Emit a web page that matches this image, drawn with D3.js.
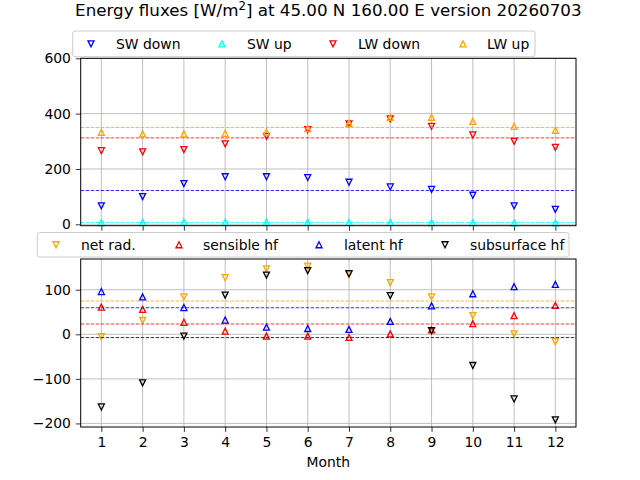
<!DOCTYPE html>
<html>
<head>
<meta charset="utf-8">
<script src="https://cdn.jsdelivr.net/npm/d3@7"></script>
<style>
  body { margin: 0; background: #fff; }
  svg text { font-family: "DejaVu Sans", sans-serif; }
</style>
</head>
<body>
<div id="chart"></div>
<script>
// values
const months = [1, 2, 3, 4, 5, 6, 7, 8, 9, 10, 11, 12];
const swDown = [67, 100, 147, 172, 172, 169, 152, 135, 126, 105, 67, 54];
const swUp = [6, 7, 8, 8, 8, 8, 7, 7, 6, 6, 5, 5];
const lwDown = [266, 262, 270, 291, 318, 342, 363, 381, 354, 323, 300, 278];
const lwUp = [332, 327, 327, 329, 333, 346, 365, 387, 387, 372, 354, 340];
const netRad = [-5, 31, 84, 127, 147, 153, 134, 116, 84, 42, 1, -17];
const sensible = [61, 56, 27, 7, -4, -4, -7, 1, 10, 24, 42, 65];
const latent = [96, 84, 60, 32, 16, 13, 11, 29, 64, 91, 107, 112];
const subsurface = [-163, -109, -4, 88, 133, 143, 136, 87, 8, -70, -145, -192];
const topTicks = [0, 200, 400, 600];
const bottomTicks = [-200, -100, 0, 100];

const topSeries = [
    { name: "SW down", values: swDown, color: "blue", marker: "down" },
    { name: "SW up", values: swUp, color: "cyan", marker: "up" },
    { name: "LW down", values: lwDown, color: "red", marker: "down" },
    { name: "LW up", values: lwUp, color: "orange", marker: "up" }
];
const bottomSeries = [
    { name: "net rad.", values: netRad, color: "orange", marker: "down" },
    { name: "sensible hf", values: sensible, color: "red", marker: "up" },
    { name: "latent hf", values: latent, color: "blue", marker: "up" },
    { name: "subsurface hf", values: subsurface, color: "black", marker: "down" }
];

const W = 640, H = 480;
const left = 80.7, right = 576;
const fontSize = 13.9;

const svg = d3.select("#chart").append("svg")
    .attr("width", W)
    .attr("height", H);

const x = d3.scaleLinear().domain([0.5, 12.5]).range([left, right]);

function markerPath(type, s) {
    // triangle marker centred on the point
    if (type === "down") return `M0,${s} L${-s},${-s} L${s},${-s} Z`;
    return `M0,${-s} L${-s},${s} L${s},${s} Z`;
}

function drawPanel(series, yDomain, top, bottom, ticks, showXLabels) {
    const y = d3.scaleLinear().domain(yDomain).range([bottom, top]);
    const g = svg.append("g");

    // grid
    g.append("g").selectAll("line.vg")
        .data(months).enter().append("line")
        .attr("x1", d => x(d)).attr("x2", d => x(d))
        .attr("y1", top).attr("y2", bottom)
        .attr("stroke", "#b0b0b0").attr("stroke-width", 0.8);
    g.append("g").selectAll("line.hg")
        .data(ticks).enter().append("line")
        .attr("x1", left).attr("x2", right)
        .attr("y1", d => y(d)).attr("y2", d => y(d))
        .attr("stroke", "#b0b0b0").attr("stroke-width", 0.8);

    // axes
    const yAxis = g.append("g")
        .attr("transform", `translate(${left},0)`)
        .call(d3.axisLeft(y).tickValues(ticks).tickSize(4.9).tickPadding(4.9).tickFormat(d => d < 0 ? "\u2212" + Math.abs(d) : d));
    const xAxis = g.append("g")
        .attr("transform", `translate(0,${bottom})`)
        .call(d3.axisBottom(x).tickValues(months).tickSize(4.9).tickPadding(4.9).tickFormat(showXLabels ? d3.format("d") : ""));
    [xAxis, yAxis].forEach(a => {
        a.select(".domain").remove();
        a.selectAll("line").attr("stroke", "#000").attr("stroke-width", 0.8);
        a.selectAll("text").attr("font-size", fontSize).attr("fill", "#000")
            .attr("font-family", "DejaVu Sans, sans-serif");
    });

    // series markers and mean lines
    series.forEach(s => {
        g.append("g").selectAll("path")
            .data(s.values).enter().append("path")
            .attr("transform", (d, i) => `translate(${x(months[i])},${y(d)})`)
            .attr("d", markerPath(s.marker, 3))
            .attr("fill", "none")
            .attr("stroke", s.color)
            .attr("stroke-width", 1.3);
        const m = d3.mean(s.values);
        g.append("line")
            .attr("x1", left).attr("x2", right)
            .attr("y1", y(m)).attr("y2", y(m))
            .attr("stroke", s.color)
            .attr("stroke-width", 0.8)
            .attr("stroke-dasharray", "3.5,1.5");
    });

    // frame
    g.append("rect")
        .attr("x", left).attr("y", top)
        .attr("width", right - left).attr("height", bottom - top)
        .attr("fill", "none").attr("stroke", "#000").attr("stroke-width", 1);
    return y;
}

function drawLegend(series, box, markerX, textX) {
    const g = svg.append("g");
    g.append("rect")
        .attr("x", box.x).attr("y", box.y)
        .attr("width", box.w).attr("height", box.h)
        .attr("rx", 2.5)
        .attr("fill", "#fff").attr("fill-opacity", 0.8)
        .attr("stroke", "#cccccc").attr("stroke-width", 1);
    const cy = box.y + box.h / 2;
    series.forEach((s, i) => {
        g.append("path")
            .attr("transform", `translate(${markerX[i]},${cy})`)
            .attr("d", markerPath(s.marker, 3))
            .attr("fill", "none").attr("stroke", s.color).attr("stroke-width", 1.3);
        g.append("text")
            .attr("x", textX[i]).attr("y", cy + 5)
            .attr("font-size", fontSize)
            .text(s.name);
    });
}

drawPanel(topSeries, [-5, 600], 58.3, 225.7, topTicks, false);
drawPanel(bottomSeries, [-208, 169], 259, 427, bottomTicks, true);

drawLegend(topSeries, { x: 72.7, y: 31, w: 462.3, h: 25.7 }, [91, 222, 333, 463], [116, 247, 358, 487]);
drawLegend(bottomSeries, { x: 37.3, y: 232.5, w: 531.7, h: 24.5 }, [56, 179, 319, 445], [81, 203, 344, 470]);

// title
const title = svg.append("text")
    .attr("x", (left + right) / 2).attr("y", 16)
    .attr("text-anchor", "middle")
    .attr("font-size", 16.7);
title.append("tspan").text("Energy fluxes [W/m");
title.append("tspan").attr("font-size", 11.7).attr("dy", -6).text("2");
title.append("tspan").attr("dy", 6).text("] at 45.00 N 160.00 E version 20260703");

svg.append("text")
    .attr("x", (left + right) / 2).attr("y", 467)
    .attr("text-anchor", "middle")
    .attr("font-size", fontSize)
    .text("Month");
</script>
</body>
</html>
